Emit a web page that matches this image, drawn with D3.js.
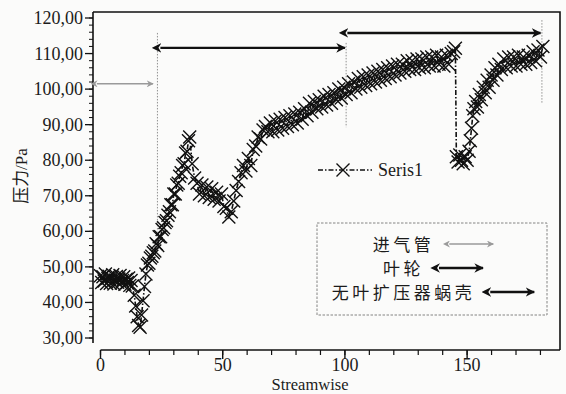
<!DOCTYPE html>
<html><head><meta charset="utf-8">
<script src="https://cdn.jsdelivr.net/npm/d3@7"></script>
<style>
html,body{margin:0;padding:0;background:#fbfbfa;}
svg{display:block;}
text{fill:#1b1b1b;}
.sf{font-family:"Liberation Serif","DejaVu Serif",serif;}
.cj{font-family:"Noto Sans CJK SC","Noto Sans CJK JP",sans-serif;}
</style></head>
<body>
<svg id="c" width="566" height="394"></svg>
<script>
// ---- data ----
const xValues = [
 0,0.5,1,1.5,2,2.5,3,3.5,4,4.5,5,5.5,6,6.5,7,7.5,8,8.5,9,9.5,10,10.5,11,11.5,12,12.5,13,
 13.8,14.4,15.0,15.6,16.2,16.8,17.4,18.0,18.6,19.2,19.8,20.4,21.0,21.6,22.2,22.8,23.4,24.0,24.6,25.2,25.8,26.4,27.0,27.6,28.2,28.8,29.4,30.0,30.6,31.2,31.8,32.4,33.0,33.6,34.2,34.8,35.4,36.0,36.5,37.5,38.5,
 39.5,40.5,41.5,42.5,43.5,44.5,45.5,46.5,47.5,48.5,49.5,50.5,51.5,52.5,53.5,54.5,55.5,56.5,57.5,58.5,59.5,60.5,61.5,62.5,63.5,64.5,65.5,66.5,67.5,68.5,69.5,70.5,71.5,72.5,73.5,74.5,75.5,76.5,77.5,78.5,79.5,80.5,81.5,82.5,83.5,84.5,85.5,86.5,87.5,88.5,89.5,90.5,91.5,92.5,93.5,94.5,95.5,96.5,97.5,98.5,99.5,
 100.5,101.5,102.5,103.5,104.5,105.5,106.5,107.5,108.5,109.5,110.5,111.5,112.5,113.5,114.5,115.5,116.5,117.5,118.5,119.5,120.5,121.5,122.5,123.5,124.5,125.5,126.5,127.5,128.5,129.5,130.5,131.5,132.5,133.5,134.5,135.5,136.5,137.5,138.5,139.5,140.5,141.5,142.5,143.5,144.5,145.2,
 145.6,146.3,147.0,147.7,148.4,149.2,150.0,150.8,151.3,151.8,152.3,152.8,153.5,154.2,155.0,155.8,156.6,157.4,158.2,159.0,159.8,160.6,161.4,162.2,163.0,164.0,165.0,166.0,167.0,168.0,169.0,170.0,171.0,172.0,173.0,174.0,175.0,176.0,177.0,178.0,179.0,180.0,181.0
];
const yValues = [
 47.5,45.6,47.2,46.0,48.0,45.3,46.8,47.4,45.4,46.9,47.8,45.2,46.3,47.3,45.7,46.6,47.6,45.5,46.2,47.2,45.1,46.5,45.6,46.9,44.8,46.2,44.6,
 42.0,39.0,36.0,33.5,33.0,36.5,40.5,44.5,48.0,50.5,51.0,52.5,53.0,54.0,54.5,56.5,56.0,58.5,58.5,60.5,61.0,62.5,63.0,64.5,65.5,67.5,67.5,70.5,70.5,73.0,73.5,75.5,76.5,78.5,79.0,82.0,82.5,85.5,86.5,79.0,75.0,
 73.5,70.5,73.0,70.0,72.5,69.5,72.0,69.0,71.0,68.5,70.5,67.0,66.5,64.0,65.5,68.5,71.5,74.0,76.5,78.5,77.0,80.5,78.5,83.0,84.0,86.5,86.0,88.5,89.5,88.0,90.5,88.0,91.0,88.5,91.5,89.0,92.0,89.5,92.5,90.0,93.0,90.5,93.5,91.5,94.5,92.5,96.0,93.5,96.5,94.5,97.0,95.0,98.0,95.5,98.5,96.0,99.0,97.0,100.0,97.5,100.5,
 98.5,101.5,99.0,102.0,100.0,103.0,100.5,103.5,101.0,104.0,101.5,104.5,102.0,105.0,102.5,105.5,103.0,106.0,103.5,106.5,104.0,107.0,104.5,107.0,105.0,108.0,105.5,108.0,105.5,108.5,106.0,108.5,106.0,109.0,106.5,109.0,106.5,109.5,107.0,109.0,106.5,109.5,107.0,110.0,110.5,111.5,
 81.0,79.5,81.5,80.0,79.0,81.0,80.0,82.5,85.5,89.0,92.5,94.5,96.5,95.0,98.5,97.0,100.5,99.0,102.5,100.5,104.0,102.5,106.0,104.0,107.0,105.5,108.5,106.0,109.0,106.5,109.0,106.5,109.5,107.0,109.0,107.0,109.5,107.5,110.5,108.0,111.0,109.0,112.0
];
const seriesName = "Seris1";
const yTicks = [30,40,50,60,70,80,90,100,110,120];
const xTicks = [0,50,100,150];
const sectionNames = ["进气管","叶轮","无叶扩压器蜗壳"];
const sectionStart = [-1.5, 24.5, 101];
const sectionEnd = [21.5, 100, 180];
const sectionArrowY = [101.5, 111.6, 115.8];
const sectionBoundX = [23.3, 100.5, 180.6];
const boundTop = [115.8, 113, 119.4];
const boundBottom = [60, 89.3, 96];
const sectionColors = ["#9a9a9a","#111","#111"];

// ---- chart ----
const svg = d3.select("#c");
const x = d3.scaleLinear().domain([0,188]).range([100.5,560]);
const y = d3.scaleLinear().domain([30,120]).range([338,18]);

// defs: arrowheads
const defs = svg.append("defs");
sectionColors.forEach((c,i)=>{
  ["s","e"].forEach(k=>{
    defs.append("marker").attr("id",`ar${i}${k}`)
      .attr("viewBox","0 0 10 10").attr("refX",k==="e"?9:1).attr("refY",5)
      .attr("markerWidth",i===0?5:4).attr("markerHeight",i===0?5:4)
      .attr("markerUnits","strokeWidth")
      .attr("orient","auto-start-reverse")
      .append("path").attr("d","M0,0 L10,5 L0,10 L3,5 Z").attr("fill",c);
  });
});

// frame (top and right)
svg.append("path").attr("d","M93,12 H560 V350").attr("fill","none").attr("stroke","#111").attr("stroke-width",1.6);

// y axis
const gy = svg.append("g").attr("transform","translate(93,0)");
gy.append("line").attr("y1",12).attr("y2",343).attr("stroke","#111").attr("stroke-width",1.6);
const yMinor = d3.range(30,120.01,2);
gy.selectAll(".ym").data(yMinor).join("line")
  .attr("x1",-4).attr("x2",0).attr("y1",d=>y(d)).attr("y2",d=>y(d)).attr("stroke","#111").attr("stroke-width",1);
gy.selectAll(".yM").data(yTicks).join("line")
  .attr("x1",-8).attr("x2",0).attr("y1",d=>y(d)).attr("y2",d=>y(d)).attr("stroke","#111").attr("stroke-width",1.3);
gy.selectAll("text").data(yTicks).join("text").attr("class","sf")
  .attr("x",-10).attr("y",d=>y(d)+6).attr("text-anchor","end")
  .style("font-size","18px")
  .text(d=>d3.format(".2f")(d).replace(".",","));

// x axis
const gx = svg.append("g").attr("transform","translate(0,350)");
gx.append("line").attr("x1",100.5).attr("x2",560).attr("stroke","#111").attr("stroke-width",1.6);
gx.selectAll(".xm").data(d3.range(0,190,10)).join("line")
  .attr("x1",d=>x(d)).attr("x2",d=>x(d)).attr("y1",0).attr("y2",5).attr("stroke","#111").attr("stroke-width",1.2);
gx.selectAll(".xM").data(xTicks).join("line")
  .attr("x1",d=>x(d)).attr("x2",d=>x(d)).attr("y1",0).attr("y2",9).attr("stroke","#111").attr("stroke-width",1.4);
gx.selectAll("text").data(xTicks).join("text").attr("class","sf")
  .attr("x",d=>x(d)).attr("y",21.3).attr("text-anchor","middle")
  .style("font-size","18px").text(d=>d);

// axis titles
svg.append("text").attr("class","sf").attr("x",310).attr("y",390).attr("text-anchor","middle")
  .style("font-size","16.5px").text("Streamwise");
const yl = svg.append("text").attr("transform","translate(27,176) rotate(-90)").attr("text-anchor","middle")
  .style("font-size","17px");
yl.append("tspan").attr("class","cj").text("压力");
yl.append("tspan").attr("class","sf").text("/Pa");

// section boundaries & arrows
svg.selectAll(".bnd").data(sectionBoundX).join("line")
  .attr("x1",d=>x(d)).attr("x2",d=>x(d))
  .attr("y1",(d,i)=>y(boundTop[i])).attr("y2",(d,i)=>y(boundBottom[i]))
  .attr("stroke","#777").attr("stroke-width",0.8).attr("stroke-dasharray","1.5,1.5");
svg.selectAll(".sar").data(sectionStart).join("line")
  .attr("x1",d=>x(d)).attr("x2",(d,i)=>x(sectionEnd[i]))
  .attr("y1",(d,i)=>y(sectionArrowY[i])).attr("y2",(d,i)=>y(sectionArrowY[i]))
  .attr("stroke",(d,i)=>sectionColors[i]).attr("stroke-width",(d,i)=>i===0?1.4:2.4)
  .attr("marker-start",(d,i)=>`url(#ar${i}s)`).attr("marker-end",(d,i)=>`url(#ar${i}e)`);

// series
const pts = xValues.map((d,i)=>[d,yValues[i]]);
svg.append("path").datum(pts)
  .attr("d",d3.line().x(d=>x(d[0])).y(d=>y(d[1])))
  .attr("fill","none").attr("stroke","#111").attr("stroke-width",1.6)
  .attr("stroke-dasharray","5,2,1.5,2");
const s = 6.5;
const xMark = `M${-s},${-s}L${s},${s}M${-s},${s}L${s},${-s}`;
svg.selectAll(".pt").data(pts).join("path")
  .attr("transform",d=>`translate(${x(d[0])},${y(d[1])})`)
  .attr("d",xMark).attr("fill","none").attr("stroke","#111").attr("stroke-width",1.4);

// series legend
svg.append("line").attr("x1",318).attr("x2",372).attr("y1",170).attr("y2",170)
  .attr("stroke","#111").attr("stroke-width",1.6).attr("stroke-dasharray","5,2,1.5,2");
svg.append("path").attr("transform","translate(343,170)").attr("d",xMark)
  .attr("fill","none").attr("stroke","#111").attr("stroke-width",1.4);
svg.append("text").attr("class","sf").attr("x",378).attr("y",176)
  .style("font-size","18px").text(seriesName);

// section legend box
svg.append("rect").attr("x",317).attr("y",223).attr("width",230).attr("height",92)
  .attr("fill","none").attr("stroke","#777").attr("stroke-width",0.9).attr("stroke-dasharray","2.5,1.5");
const rowY = [251,275,299];
const cx = 434, gap = 13, alen = 48;
sectionNames.forEach((name,i)=>{
  const t = svg.append("text").attr("class","cj").attr("y",rowY[i])
    .style("font-size","17px").style("letter-spacing","3.5px").text(name);
  const w = t.node().getComputedTextLength();
  const total = w + gap + alen;
  const x0 = cx - total/2;
  t.attr("x",x0);
  const ax = x0 + w + gap;
  svg.append("line").attr("x1",ax+2).attr("x2",ax+alen-2).attr("y1",rowY[i]-7).attr("y2",rowY[i]-7)
    .attr("stroke",sectionColors[i]).attr("stroke-width",i===0?1.4:2.4)
    .attr("marker-start",`url(#ar${i}s)`).attr("marker-end",`url(#ar${i}e)`);
});
</script>
</body></html>
